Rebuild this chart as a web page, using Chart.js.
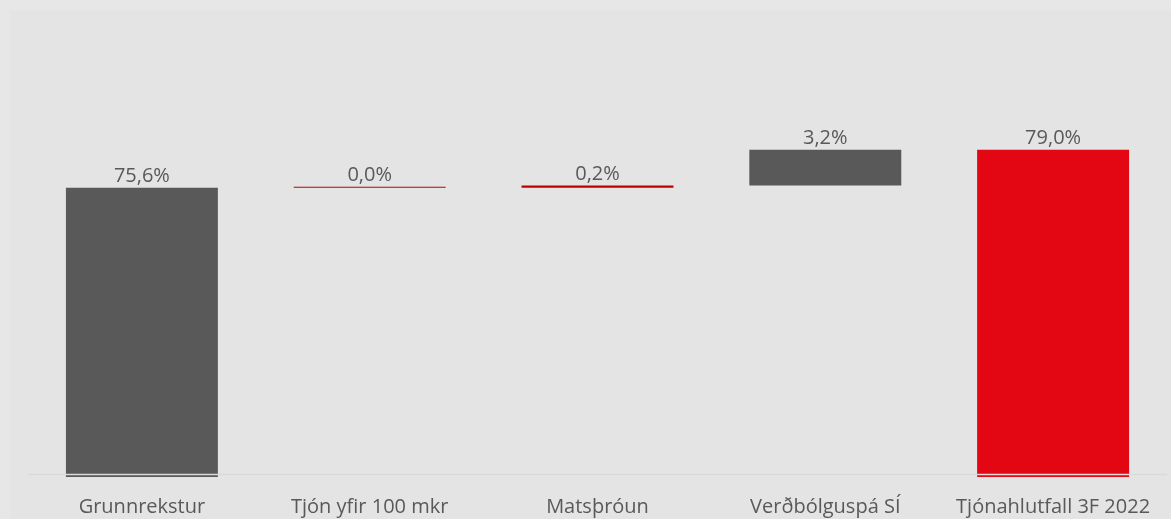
<!DOCTYPE html>
<html>
<head>
<meta charset="utf-8">
<script src="https://cdn.jsdelivr.net/npm/chart.js@4"></script>
<style>
  html, body { margin: 0; padding: 0; background: #e7e7e7; }
  #wrap { width: 1171px; height: 519px; }
</style>
</head>
<body>
<div id="wrap"><canvas id="tjonChart" width="1171" height="519"></canvas></div>
<script>
// flokkar og breytingar (í %)
const categories = ['Grunnrekstur', 'Tjón yfir 100 mkr', 'Matsþróun', 'Verðbólguspá SÍ', 'Tjónahlutfall 3F 2022'];
const changes = [75.6, 0.0, 0.2, 3.2, 79.0];
const isTotal = [true, false, false, false, true];
const barColors = ['#595959', '#c00000', '#c00000', '#595959', '#e30613'];

const axisMin = 49.7;
const axisMax = 90;

// fljótandi súlur fyrir fossarit
let running = 0;
const ranges = changes.map((v, i) => {
  if (isTotal[i]) { running = v; return [axisMin, v]; }
  const start = running;
  running = running + v;
  return [start, running];
});

const bgPlugin = {
  id: 'bg',
  beforeDraw(chart) {
    const c = chart.ctx;
    c.save();
    c.fillStyle = '#e7e7e7';
    c.fillRect(0, 0, chart.width, chart.height);
    c.fillStyle = '#e4e4e4';
    c.fillRect(10, 10, chart.width - 10, chart.height - 10);
    c.restore();
  }
};

const axisLinePlugin = {
  id: 'axisLine',
  afterDatasetsDraw(chart) {
    const c = chart.ctx;
    const y = Math.round(chart.scales.y.getPixelForValue(50)) + 0.5;
    c.save();
    c.strokeStyle = '#d9d9d9';
    c.lineWidth = 1.5;
    c.beginPath();
    c.moveTo(chart.chartArea.left, y);
    c.lineTo(chart.chartArea.right, y);
    c.stroke();
    c.restore();
  }
};

const valueLabels = {
  id: 'valueLabels',
  afterDatasetsDraw(chart) {
    const c = chart.ctx;
    const meta = chart.getDatasetMeta(0);
    c.save();
    c.fillStyle = '#595959';
    c.font = '20px "Open Sans"';
    c.textAlign = 'center';
    c.textBaseline = 'alphabetic';
    meta.data.forEach((bar, i) => {
      const txt = changes[i].toFixed(1).replace('.', ',') + '%';
      const top = Math.min(bar.y, bar.base);
      c.fillText(txt, bar.x, top - 6);
    });
    c.restore();
  }
};

const ctx = document.getElementById('tjonChart').getContext('2d');
const chart = new Chart(ctx, {
  type: 'bar',
  data: {
    labels: categories,
    datasets: [{
      data: ranges,
      backgroundColor: barColors,
      borderWidth: 0,
      minBarLength: 1,
      categoryPercentage: 1,
      barPercentage: 0.667
    }]
  },
  options: {
    responsive: false,
    animation: false,
    layout: { padding: { left: 28, right: 4, top: 27, bottom: 0 } },
    plugins: { legend: { display: false }, tooltip: { enabled: false } },
    scales: {
      x: {
        grid: { display: false },
        border: { display: false },
        ticks: {
          color: '#595959',
          font: { family: 'Open Sans', size: 20 },
          padding: 10,
          maxRotation: 0,
          autoSkip: false
        },
        afterFit(scale) { scale.height = 42; }
      },
      y: {
        display: false,
        min: axisMin,
        max: axisMax
      }
    }
  },
  plugins: [bgPlugin, axisLinePlugin, valueLabels]
});
</script>
</body>
</html>
